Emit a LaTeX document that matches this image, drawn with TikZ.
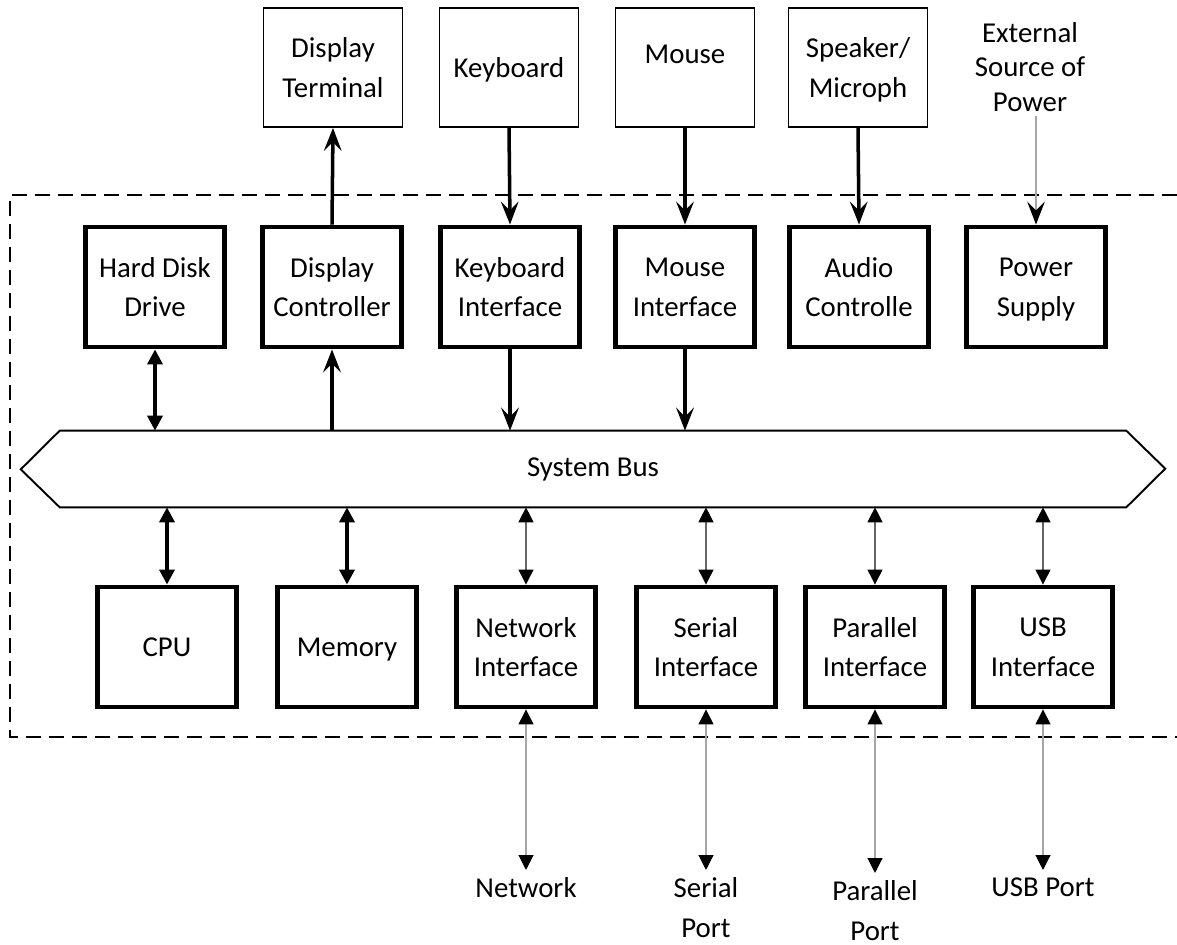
\documentclass[tikz,border=0pt]{standalone}
\usepackage{fontspec}
\setmainfont{Carlito}
\usetikzlibrary{arrows.meta, positioning, calc}
\tikzset{
  unitbox/.style={draw, line width=2.8pt, minimum width=2.78cm, minimum height=2.4cm, align=center, inner sep=0pt, text depth=0pt},
  devbox/.style={draw, line width=1.1pt, minimum width=2.78cm, minimum height=2.38cm, align=center, inner sep=0pt, text depth=0pt},
  oneway/.style={line width=2pt, -{Stealth[length=13pt, width=10pt, inset=5pt]}},
  twoway/.style={line width=2pt, {Triangle[length=8.5pt, width=8.5pt]}-{Triangle[length=8.5pt, width=8.5pt]}},
  portway/.style={line width=0.7pt, draw=black!60, {Triangle[length=8.5pt, width=8.5pt, color=black]}-{Triangle[length=8.5pt, width=8.5pt, color=black]}},
  outway/.style={line width=0.7pt, draw=black!35, {Triangle[length=8.5pt, width=8.5pt, color=black]}-{Triangle[length=8.5pt, width=8.5pt, color=black]}, shorten >=4pt},
  portlabel/.style={align=center, inner sep=0pt, anchor=north},
  frame/.style={line width=1.1pt, dash pattern=on 0.3cm off 0.16cm},
}

\begin{document}
\begin{tikzpicture}[x=0.02cm, y=-0.02cm, font=\fontsize{16.4}{22.7}\selectfont]
  \useasboundingbox (0,0) rectangle (1177,945);

  % Computer boundary
  \draw[frame] (1177,195) -- (10,195) -- (10,737) -- (1177,737);

  % External devices
  \node[devbox] (dterm) at (333,67.5) {Display\\Terminal};
  \node[devbox] (kbd) at (509,67.5) {Keyboard};
  \node[devbox, text depth=15pt] (mouse) at (685,67.5) {Mouse};
  \node[devbox] (spk) at (858,67.5) {Speaker/\\Microph};
  \node[align=center, inner sep=2pt, font=\fontsize{16.4}{19.8}\selectfont] (extpwr) at (1030,67) {External\\Source of\\Power};

  % Upper units
  \node[unitbox] (hdd) at (155,287) {Hard Disk\\Drive};
  \node[unitbox] (dctl) at (332,287) {Display\\Controller};
  \node[unitbox] (kbdif) at (510,287) {Keyboard\\Interface};
  \node[unitbox] (mouseif) at (685,287) {Mouse\\Interface};
  \node[unitbox] (audio) at (859,287) {Audio\\Controlle};
  \node[unitbox] (psu) at (1036,287) {Power\\Supply};

  % System bus
  \node[minimum width=21.32cm, minimum height=1.52cm, inner sep=0pt] (bus) at (593,469) {System Bus};
  \draw[line width=1.1pt, line join=miter] (bus.north west) -- (bus.north east) -- ++(39,38) -- (bus.south east)
    -- (bus.south west) -- ++(-39,-38) -- cycle;

  % Lower units
  \node[unitbox] (cpu) at (167,647) {CPU};
  \node[unitbox] (mem) at (347,647) {Memory};
  \node[unitbox] (netif) at (526,647) {Network\\Interface};
  \node[unitbox] (serif) at (706,647) {Serial\\Interface};
  \node[unitbox] (parif) at (875,647) {Parallel\\Interface};
  \node[unitbox] (usbif) at (1043,647) {USB\\Interface};

  % Outside ports
  \node[portlabel] (net) at (526,877) {Network};
  \node[portlabel] (serport) at (706,877) {Serial\\Port};
  \node[portlabel] (parport) at (875,880) {Parallel\\Port};
  \node[portlabel] (usbport) at (1043,877) {USB Port};

  % Devices to units
  \draw[oneway] (dctl.north) -- (dterm.south);
  \draw[oneway] (kbd.south) -- (kbdif.north);
  \draw[oneway] (mouse.south) -- (mouseif.north);
  \draw[oneway] (spk.south) -- (audio.north);
  \draw[line width=0.7pt, draw=black!35, -{Stealth[length=13pt, width=10pt, inset=5pt, color=black]}]
    (psu.north |- extpwr.south) -- (psu.north);

  % Units to bus
  \draw[twoway] (hdd.south) -- (hdd.south |- bus.north);
  \draw[oneway] (dctl.south |- bus.north) -- (dctl.south);
  \draw[oneway] (kbdif.south) -- (kbdif.south |- bus.north);
  \draw[oneway] (mouseif.south) -- (mouseif.south |- bus.north);
  \draw[twoway] (cpu.north |- bus.south) -- (cpu.north);
  \draw[twoway] (mem.north |- bus.south) -- (mem.north);
  \foreach \u in {netif, serif, parif, usbif}
    \draw[portway] (\u.north |- bus.south) -- (\u.north);

  % Interfaces to ports
  \draw[outway] (netif.south) -- (net.north);
  \draw[outway] (serif.south) -- (serport.north);
  \draw[outway] (parif.south) -- (parport.north);
  \draw[outway] (usbif.south) -- (usbport.north);
\end{tikzpicture}
\end{document}
